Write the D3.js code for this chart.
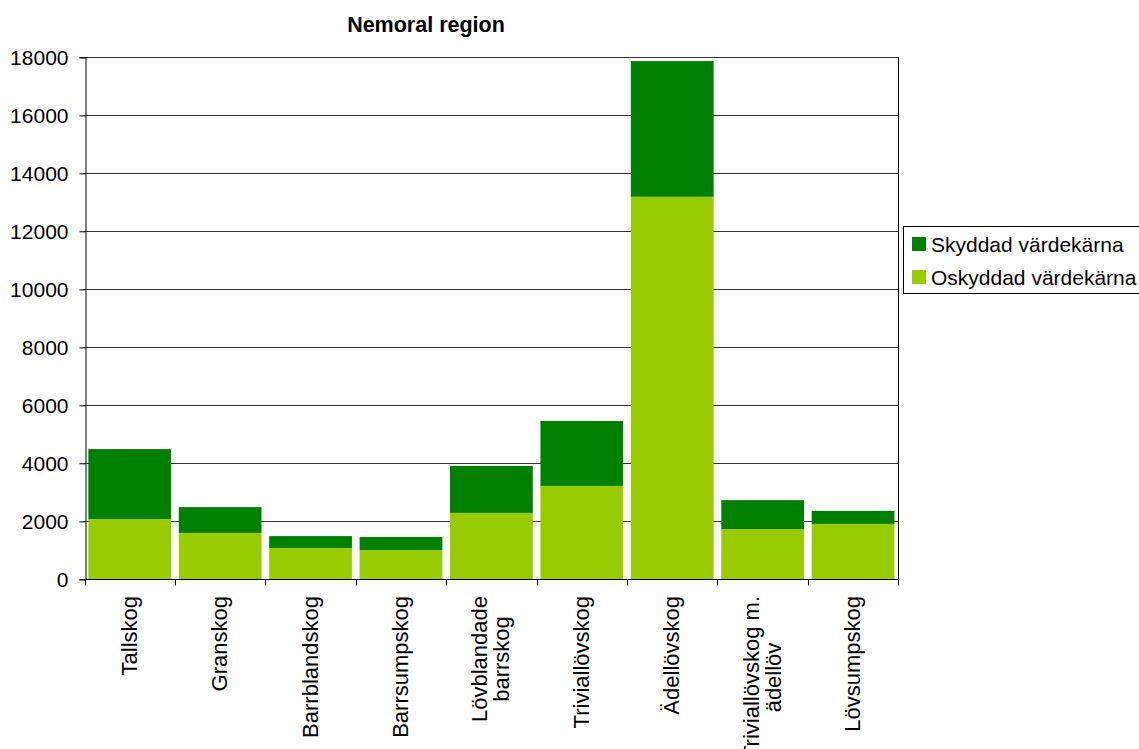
<!DOCTYPE html>
<html>
<head>
<meta charset="utf-8">
<script src="https://cdn.jsdelivr.net/npm/d3@7"></script>
<style>
  body { margin: 0; background: #fff; }
  svg { display: block; font-family: Arial, "Liberation Sans", sans-serif; }
</style>
</head>
<body>
<div id="chart"></div>
<script>
// data
var categories = ["Tallskog", "Granskog", "Barrblandskog", "Barrsumpskog",
  "Lövblandade\nbarrskog", "Triviallövskog", "Ädellövskog",
  "Triviallövskog m.\nädellöv", "Lövsumpskog"];
var oskyddad = [2080, 1600, 1080, 1010, 2290, 3220, 13190, 1730, 1910];
var skyddad = [2410, 890, 410, 450, 1620, 2240, 4680, 1000, 450];
var seriesNames = ["Oskyddad värdekärna", "Skyddad värdekärna"];
var seriesColors = ["#99cc00", "#008000"];
var yTicks = [0, 2000, 4000, 6000, 8000, 10000, 12000, 14000, 16000, 18000];

var W = 1139, H = 749;
var plot = { left: 84.5, right: 898.3, top: 57.3, bottom: 579.3 };

var svg = d3.select("#chart").append("svg")
  .attr("width", W)
  .attr("height", H);

// table for the stack
var rows = categories.map(function(c, i) {
  return { cat: c, osk: oskyddad[i], sky: skyddad[i] };
});
var stacked = d3.stack().keys(["osk", "sky"])(rows);

var x = d3.scaleBand()
  .domain(categories)
  .range([plot.left, plot.right])
  .paddingInner(0.085)
  .paddingOuter(0.0425);

var y = d3.scaleLinear()
  .domain([0, 18000])
  .range([plot.bottom, plot.top]);

// gridlines
svg.append("g")
  .selectAll("line")
  .data(yTicks.slice(1))
  .enter().append("line")
  .attr("x1", plot.left).attr("x2", plot.right)
  .attr("y1", function(d) { return Math.round(y(d)) + 0.5; })
  .attr("y2", function(d) { return Math.round(y(d)) + 0.5; })
  .attr("stroke", "#333").attr("stroke-width", 1);

// bars
svg.append("g")
  .selectAll("g")
  .data(stacked)
  .enter().append("g")
  .attr("fill", function(d, i) { return seriesColors[i]; })
  .selectAll("rect")
  .data(function(d) { return d; })
  .enter().append("rect")
  .attr("x", function(d) { return x(d.data.cat); })
  .attr("width", x.bandwidth())
  .attr("y", function(d) { return y(d[1]); })
  .attr("height", function(d) { return y(d[0]) - y(d[1]); });

// right border of plot area
svg.append("line")
  .attr("x1", Math.round(plot.right) + 0.5).attr("x2", Math.round(plot.right) + 0.5)
  .attr("y1", plot.top).attr("y2", plot.bottom)
  .attr("stroke", "#000");

// y axis
var yAxis = d3.axisLeft(y)
  .tickValues(yTicks)
  .tickSize(6)
  .tickPadding(11)
  .tickFormat(d3.format("d"));
var gy = svg.append("g")
  .attr("transform", "translate(" + (Math.round(plot.left) + 0.5) + ",0)")
  .call(yAxis);
gy.select(".domain").attr("stroke", "#000");
gy.selectAll(".tick line").attr("stroke", "#000");
gy.selectAll(".tick text")
  .attr("font-size", 21)
  .attr("font-family", "Arial, 'Liberation Sans', sans-serif")
  .attr("fill", "#000");

// x axis: ticks at category boundaries
var step = x.step();
var bounds = d3.range(categories.length + 1).map(function(i) {
  return plot.left + i * step;
});
var baseY = Math.round(plot.bottom) + 0.5;
svg.append("line")
  .attr("x1", plot.left).attr("x2", plot.right + 1)
  .attr("y1", baseY).attr("y2", baseY)
  .attr("stroke", "#000");
svg.append("g")
  .selectAll("line")
  .data(bounds)
  .enter().append("line")
  .attr("x1", function(d) { return Math.round(d) + 0.5; })
  .attr("x2", function(d) { return Math.round(d) + 0.5; })
  .attr("y1", baseY).attr("y2", baseY + 6)
  .attr("stroke", "#000");

// rotated category labels, top aligned, lines centred
var labelTop = 596, lineH = 22;
categories.forEach(function(c) {
  var lines = c.split("\n");
  var cx = x(c) + x.bandwidth() / 2;
  var t = svg.append("text")
    .attr("font-size", 22)
    .attr("text-anchor", "middle")
    .attr("fill", "#000");
  lines.forEach(function(l, i) {
    t.append("tspan")
      .attr("x", 0)
      .attr("y", 7 + (i - (lines.length - 1) / 2) * lineH)
      .text(l);
  });
  var maxLen = 0;
  t.selectAll("tspan").each(function() {
    maxLen = Math.max(maxLen, this.getComputedTextLength());
  });
  t.attr("transform", "translate(" + cx + "," + (labelTop + maxLen / 2) + ") rotate(-90)");
});

// title
svg.append("text")
  .attr("x", 426)
  .attr("y", 32)
  .attr("text-anchor", "middle")
  .attr("font-size", 21.5)
  .attr("font-weight", "bold")
  .text("Nemoral region");

// legend
var legend = svg.append("g");
legend.append("rect")
  .attr("x", 903.5).attr("y", 226.5)
  .attr("width", 260).attr("height", 67)
  .attr("fill", "#fff").attr("stroke", "#000");
var legendOrder = [1, 0];
legendOrder.forEach(function(s, i) {
  legend.append("rect")
    .attr("x", 912).attr("y", 237 + i * 33)
    .attr("width", 14).attr("height", 14)
    .attr("fill", seriesColors[s]);
  legend.append("text")
    .attr("x", 931).attr("y", 251.5 + i * 33)
    .attr("font-size", 21)
    .attr("fill", "#000")
    .text(seriesNames[s]);
});
</script>
</body>
</html>
